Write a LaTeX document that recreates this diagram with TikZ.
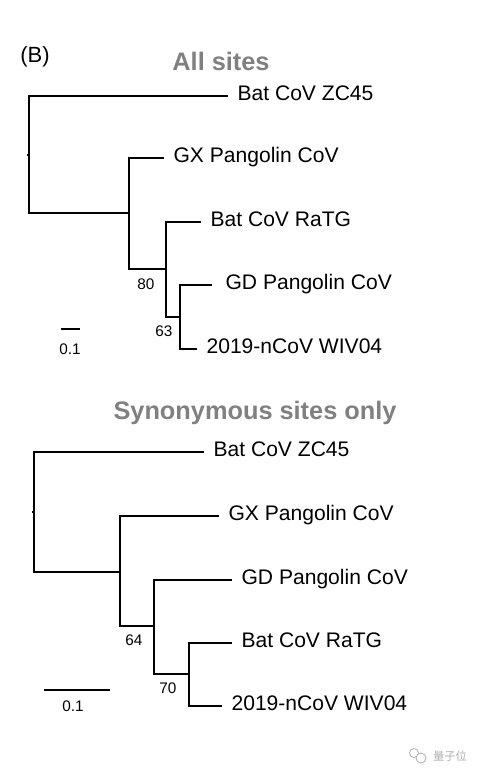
\documentclass[tikz,border=0pt]{standalone}
\usepackage{fontspec}
\setmainfont{Liberation Sans}
\newfontfamily\cjk{Noto Sans CJK SC}
\definecolor{titlegray}{RGB}{128,128,128}
\definecolor{markgray}{RGB}{175,175,175}
\tikzset{
  branch/.style={line width=1pt},
  leaf/.style={anchor=west, inner xsep=7pt, inner ysep=0pt, text height=0.72em, text depth=0pt, font=\fontsize{15.8}{18}\selectfont},
  support/.style={inner sep=0pt, font=\fontsize{11.5}{13}\selectfont},
  treetitle/.style={anchor=base, inner sep=0pt, text=titlegray, font=\fontsize{19}{22}\selectfont\bfseries},
}
\begin{document}
\begin{tikzpicture}[x=0.75pt,y=0.75pt,yscale=-1,xscale=1]
\useasboundingbox (0,0) rectangle (484,776);
\node[anchor=base, inner sep=0pt, font=\fontsize{16.5}{18}\selectfont] (panel) at (35,62) {(B)};
% all sites
\node[treetitle] (title1) at (221,70) {All sites};
\coordinate (root1) at (29,155);
\coordinate (a1) at (129,213);
\coordinate (b1) at (166,269);
\coordinate (c1) at (180,317);
\node[leaf] (zc1) at (228,96) {Bat CoV ZC45};
\node[leaf] (gx1) at (164,158) {GX Pangolin CoV};
\node[leaf] (ra1) at (201,222) {Bat CoV RaTG};
\node[leaf, inner xsep=10pt] (gd1) at (212,285) {GD Pangolin CoV};
\node[leaf] (nc1) at (197,349) {2019-nCoV WIV04};
\draw[branch] (root1) -- ++(-2.5,0);
\draw[branch] (root1) |- (zc1.west);
\draw[branch] (root1) |- (a1);
\draw[branch] (a1) |- (gx1.west);
\draw[branch] (a1) |- (b1);
\draw[branch] (b1) |- (ra1.west);
\draw[branch] (b1) |- (c1);
\draw[branch] (c1) |- (gd1.west);
\draw[branch] (c1) |- (nc1.west);
\node[support] (bs80) at (146,284) {80};
\node[support] (bs63) at (164,331) {63};
\coordinate (sb1a) at (61,329);
\coordinate (sb1b) at (80,329);
\draw[branch] (sb1a) -- (sb1b);
\node[support] (sc1) at (70,349) {0.1};
% synonymous sites only
\node[treetitle] (title2) at (255,419) {Synonymous sites only};
\coordinate (root2) at (34,512);
\coordinate (a2) at (120,572);
\coordinate (b2) at (154,626);
\coordinate (c2) at (189,674);
\node[leaf] (zc2) at (204,452) {Bat CoV ZC45};
\node[leaf] (gx2) at (219,516) {GX Pangolin CoV};
\node[leaf] (gd2) at (232,580) {GD Pangolin CoV};
\node[leaf] (ra2) at (232,643) {Bat CoV RaTG};
\node[leaf] (nc2) at (222,706) {2019-nCoV WIV04};
\draw[branch] (root2) -- ++(-2.5,0);
\draw[branch] (root2) |- (zc2.west);
\draw[branch] (root2) |- (a2);
\draw[branch] (a2) |- (gx2.west);
\draw[branch] (a2) |- (b2);
\draw[branch] (b2) |- (gd2.west);
\draw[branch] (b2) |- (c2);
\draw[branch] (c2) |- (ra2.west);
\draw[branch] (c2) |- (nc2.west);
\node[support] (bs64) at (134,640) {64};
\node[support] (bs70) at (168,688) {70};
\coordinate (sb2a) at (44,690);
\coordinate (sb2b) at (110,690);
\draw[branch] (sb2a) -- (sb2b);
\node[support] (sc2) at (73,706) {0.1};
% watermark
\draw[markgray, line width=0.6pt] (414,753) circle (4.5);
\draw[markgray, line width=0.6pt, fill=white] (421,758) circle (5);
\node[inner sep=0pt, text=markgray, font=\cjk\fontsize{8.5}{10}\selectfont] (mark) at (450,756) {量子位};
\end{tikzpicture}
\end{document}
